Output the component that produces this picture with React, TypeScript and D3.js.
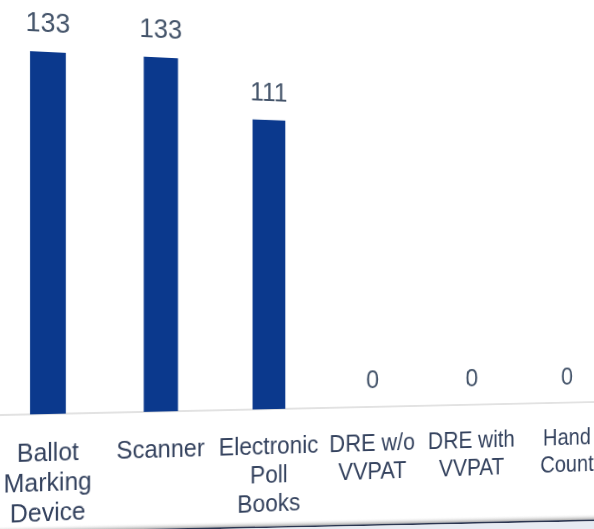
import React from "react";
import * as d3 from "d3";

// ---- data ----
const categories = [
  "Ballot Marking Device",
  "Scanner",
  "Electronic Poll Books",
  "DRE w/o VVPAT",
  "DRE with VVPAT",
  "Hand Count",
];
const categoryLines = [
  ["Ballot", "Marking", "Device"],
  ["Scanner"],
  ["Electronic", "Poll", "Books"],
  ["DRE w/o", "VVPAT"],
  ["DRE with", "VVPAT"],
  ["Hand", "Count"],
];
const values = [133, 133, 111, 0, 0, 0];

// ---- layout (flat chart frame, later seen in perspective) ----
const FLAT_W = 720;
const FLAT_H = 560;
const STEP = 116.55;
const FIRST_CENTER = 48;
const BASE_Y = 414;
const TOP_Y = 52;
const BAR_COLOR = "#0b398d";
const TEXT_COLOR = "#44546a";
const FONT = "'Liberation Sans', Arial, sans-serif";

// perspective (homography) of the photographed page
const PERSPECTIVE =
  "matrix3d(1, 0.058087, 0, 0.00019288, 0, 1, 0, 0, 0, 0, 1, 0, 0, -2.7882, 0, 0.990742)";

export default function App() {
  const x = d3
    .scaleBand<string>()
    .domain(categories)
    .range([FIRST_CENTER - STEP / 2, FIRST_CENTER + (categories.length - 0.5) * STEP])
    .paddingInner(0.69)
    .paddingOuter(0.345);

  const y = d3.scaleLinear().domain([0, d3.max(values) as number]).range([BASE_Y, TOP_Y]);

  const cx = (c: string) => (x(c) as number) + x.bandwidth() / 2;

  return (
    <div
      style={{
        position: "absolute",
        left: 0,
        top: 0,
        width: 594,
        height: 529,
        overflow: "hidden",
        background: "#ffffff",
      }}
    >
      <svg
        width={FLAT_W}
        height={FLAT_H}
        style={{
          position: "absolute",
          left: 0,
          top: 0,
          transformOrigin: "0 0",
          transform: PERSPECTIVE,
        }}
      >
        {/* baseline */}
        <line x1={-20} x2={FLAT_W} y1={y(0)} y2={y(0)} stroke="#d9d9d9" strokeWidth={1.5} />
        {/* bars */}
        {categories.map((c, i) => (
          <rect
            key={"b" + c}
            x={x(c)}
            y={y(values[i])}
            width={x.bandwidth()}
            height={y(0) - y(values[i])}
            fill={BAR_COLOR}
          />
        ))}
        {/* value labels */}
        {categories.map((c, i) => (
          <text
            key={"v" + c}
            x={cx(c)}
            y={y(values[i]) - 20}
            textAnchor="middle"
            fontFamily={FONT}
            fontSize={27}
            fill={TEXT_COLOR}
          >
            {values[i]}
          </text>
        ))}
        {/* category labels */}
        {categories.map((c, i) => (
          <text
            key={"c" + c}
            x={cx(c)}
            y={y(0) + 47}
            textAnchor="middle"
            fontFamily={FONT}
            fontSize={25}
            fill="#34425e"
          >
            {categoryLines[i].map((line, j) => (
              <tspan key={j} x={cx(c)} dy={j === 0 ? 0 : 30}>
                {line}
              </tspan>
            ))}
          </text>
        ))}
      </svg>
      {/* page edge shadow of the photographed page */}
      <svg width={594} height={529} style={{ position: "absolute", left: 0, top: 0 }}>
        <defs>
          <linearGradient id="edgeShade" x1="0" y1="0" x2="0" y2="1">
            <stop offset="0" stopColor="#ffffff" stopOpacity={0} />
            <stop offset="1" stopColor="#a9a9a9" />
          </linearGradient>
        </defs>
        <g transform="matrix(1,-0.021,0,1,0,526)">
          <rect x={0} y={0} width={600} height={6} fill="url(#edgeShade)" />
          <rect x={0} y={6} width={600} height={1.6} fill="#2b3650" />
          <rect x={0} y={7.6} width={600} height={20} fill="#e6ebf2" />
        </g>
      </svg>
    </div>
  );
}
